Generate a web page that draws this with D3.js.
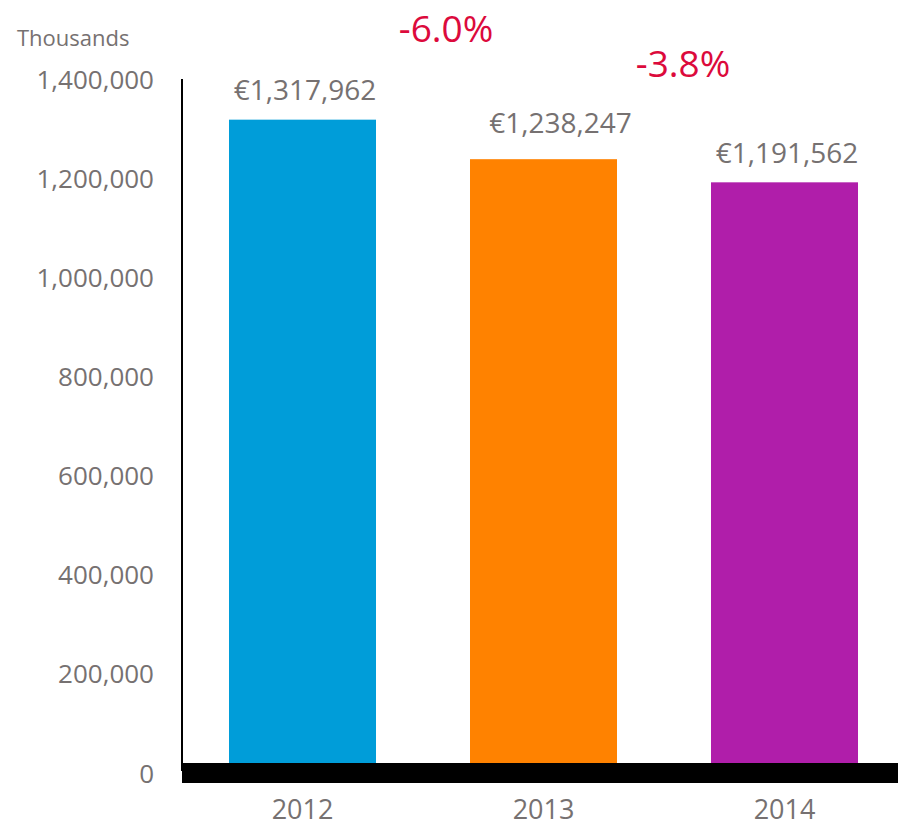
<!DOCTYPE html>
<html><head><meta charset="utf-8">
<script src="https://cdn.jsdelivr.net/npm/d3@7"></script>
<style>html,body{margin:0;padding:0;background:#fff;}svg{display:block;font-family:"Open Sans",sans-serif;}</style>
</head><body>
<svg id="c" width="898" height="827"></svg>
<script>
const years = ["2012", "2013", "2014"];
const values = [1317962, 1238247, 1191562];
const colors = ["#009DD9", "#FF8200", "#B01EAA"];
const tickValues = [0, 200000, 400000, 600000, 800000, 1000000, 1200000, 1400000];
const changeLabels = ["-6.0%", "-3.8%"];
const unitLabel = "Thousands";

const svg = d3.select("#c");
const gray = "#767171";
const red = "#DC0A3C";

const x = d3.scaleBand().domain(years).range([182, 905]).paddingInner(0.39).paddingOuter(0.195);
const y = d3.scaleLinear().domain([0, 1400000]).range([773, 79]);

// bars
svg.selectAll("rect.bar").data(years).enter().append("rect")
  .attr("class", "bar")
  .attr("x", d => x(d))
  .attr("width", x.bandwidth())
  .attr("y", (d, i) => y(values[i]))
  .attr("height", (d, i) => y(0) - y(values[i]))
  .attr("fill", (d, i) => colors[i]);

// y axis
const yAxis = d3.axisLeft(y).tickValues(tickValues).tickSize(0).tickPadding(0)
  .tickFormat(d3.format(","));
const gy = svg.append("g").attr("transform", "translate(154,0)").call(yAxis);
gy.select(".domain").remove();
gy.selectAll("text").attr("fill", gray).style("font-size", "26px")
  .style("font-family", "'Open Sans',sans-serif").attr("dy", "0.35em");

svg.append("line").attr("x1", 182).attr("x2", 182).attr("y1", y(1400000)).attr("y2", 771)
  .attr("stroke", "#000").attr("stroke-width", 2);

// thick baseline
svg.append("rect").attr("x", 182).attr("y", y(0) - 10).attr("width", 898 - 182).attr("height", 20).attr("fill", "#000");

// x axis labels
const xAxis = d3.axisBottom(x).tickSize(0).tickPadding(0);
const gx = svg.append("g").attr("transform", "translate(0,819)").call(xAxis);
gx.select(".domain").remove();
gx.selectAll("text").attr("fill", gray).style("font-size", "27px")
  .style("font-family", "'Open Sans',sans-serif").attr("dy", 0).attr("y", 0);

// value labels
const fmt = d3.format(",");
const labelShift = [[2.5, -20], [17, -26], [2.5, -19]];
svg.selectAll("text.val").data(years).enter().append("text")
  .attr("class", "val")
  .attr("x", (d, i) => x(d) + x.bandwidth() / 2 + labelShift[i][0])
  .attr("y", (d, i) => y(values[i]) + labelShift[i][1])
  .attr("text-anchor", "middle").attr("fill", gray).style("font-size", "28px")
  .text((d, i) => "€" + fmt(values[i]));

// change labels
const changePos = [[446, 42], [683, 77]];
svg.selectAll("text.chg").data(changeLabels).enter().append("text")
  .attr("class", "chg")
  .attr("x", (d, i) => changePos[i][0]).attr("y", (d, i) => changePos[i][1])
  .attr("text-anchor", "middle").attr("fill", red).style("font-size", "37px")
  .text(d => d);

svg.append("text").attr("x", 17).attr("y", 46).attr("fill", gray).style("font-size", "22px").text(unitLabel);
</script>
</body></html>
